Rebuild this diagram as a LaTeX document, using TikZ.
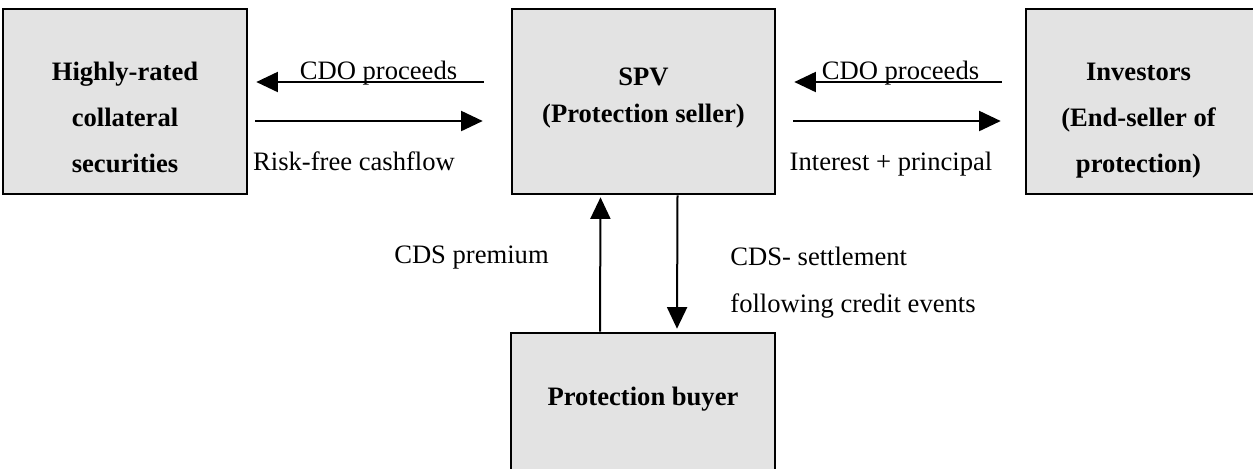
\documentclass[tikz,border=0pt]{standalone}
\usepackage{fontspec}
\setmainfont{Liberation Serif}
\usetikzlibrary{arrows.meta}
\definecolor{boxgray}{RGB}{227,227,227}
\tikzset{
  party/.style={draw=black, line width=1.3pt, fill=boxgray, inner sep=0pt, rectangle},
  boxtext/.style={align=center, inner sep=0pt, font=\bfseries\fontsize{13.3}{23}\selectfont},
  flowlabel/.style={inner sep=0pt, font=\fontsize{13.3}{16}\selectfont},
  flow/.style={line width=1pt, -{Triangle[length=10.8pt,width=10pt]}}
}
\begin{document}
\begin{tikzpicture}[x=0.5pt, y=-0.5pt]
  \clip (0,0) rectangle (1253,468);
  \useasboundingbox (0,0) rectangle (1253,468);

  % boxes
  \node[party, minimum width=122pt, minimum height=92.5pt] (col) at (125,101.5) {};
  \node[party, minimum width=131.5pt, minimum height=92.5pt] (spv) at (643.5,101.5) {};
  \node[party, minimum width=116pt, minimum height=92.5pt] (inv) at (1142,101.5) {};
  \node[party, minimum width=132pt, minimum height=70pt] (buyer) at (643,403) {};

  % box texts
  \node[boxtext] (coltext) at (125,117) {Highly-rated\\collateral\\securities};
  \node[boxtext, font=\bfseries\fontsize{13.3}{18.5}\selectfont] (spvtext) at (643.5,98) {SPV\\(Protection seller)};
  \node[boxtext] (invtext) at (1138.5,121) {Investors\\(End-seller of\\protection)};
  \node[boxtext] (buyertext) at (643,399) {Protection buyer};

  % flows between collateral and SPV
  \draw[flow] ([shift={(-27,-19.5)}]spv.west) -- ([shift={(8,-19.5)}]col.east);
  \draw[flow] ([shift={(7,19.5)}]col.east) -- ([shift={(-28,19.5)}]spv.west);

  % flows between SPV and investors
  \draw[flow] ([shift={(-23,-19.5)}]inv.west) -- ([shift={(18,-19.5)}]spv.east);
  \draw[flow] ([shift={(17,19.5)}]spv.east) -- ([shift={(-24,19.5)}]inv.west);

  % flows between SPV and protection buyer
  \draw[flow] ([xshift=-21.5pt]buyer.north) -- ([shift={(-43,2)}]spv.south);
  \draw[flow] ([xshift=17pt]spv.south) -- ([shift={(34,-3)}]buyer.north);

  % flow labels
  \node[flowlabel, anchor=base] (l1) at (378.5,79) {CDO proceeds};
  \node[flowlabel, anchor=base] (l2) at (354,170) {Risk-free cashflow};
  \node[flowlabel, anchor=base] (l3) at (900.5,79) {CDO proceeds};
  \node[flowlabel, anchor=base] (l4) at (891,170) {Interest + principal};
  \node[flowlabel, anchor=base] (l5) at (471.5,263) {CDS premium};
  \node[flowlabel, anchor=base west] (l6) at (730,265) {CDS- settlement};
  \node[flowlabel, anchor=base west] (l7) at (730,312) {following credit events};
\end{tikzpicture}
\end{document}
